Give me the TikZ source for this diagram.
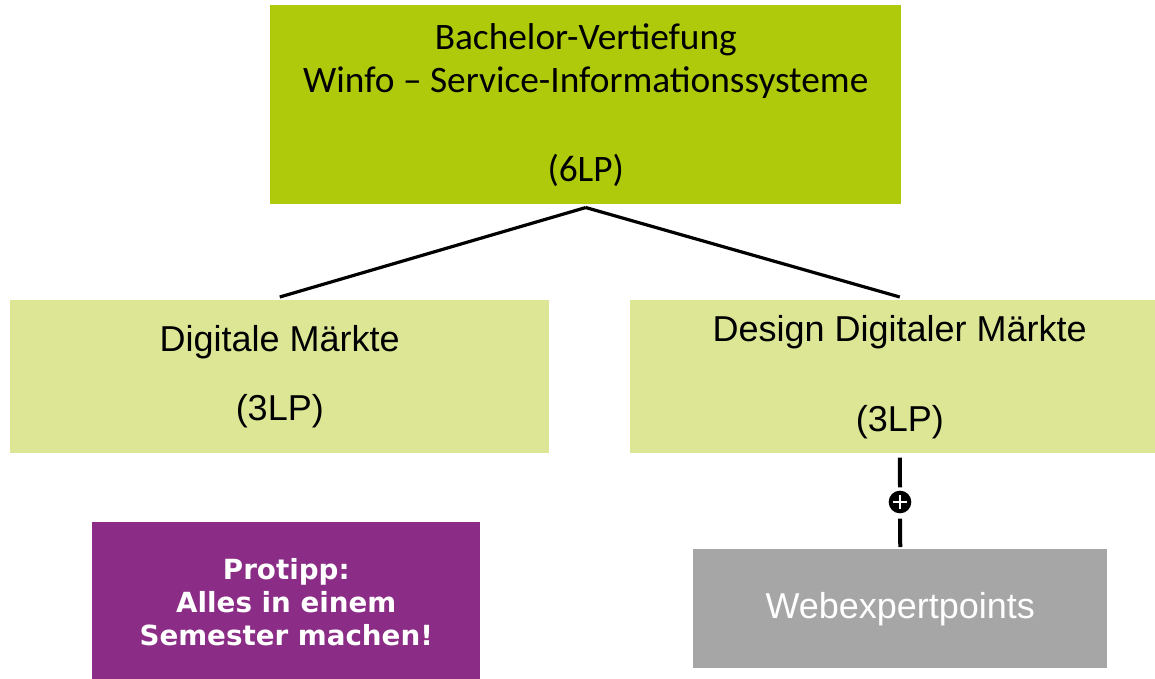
\documentclass[tikz,border=0pt]{standalone}
\usepackage{fontspec}
\setmainfont{Liberation Sans}
\newfontfamily\calib{Carlito}
\newfontfamily\verd{DejaVu Sans}
\definecolor{topgreen}{HTML}{AFCA0B}
\definecolor{lightgreen}{HTML}{DCE695}
\definecolor{protipp}{HTML}{8B2D86}
\definecolor{greybox}{HTML}{A6A6A6}
\begin{document}
\begin{tikzpicture}[x=0.75pt,y=-0.75pt,
  box/.style={draw=none, inner sep=0pt, anchor=north west, align=center},
  conn/.style={line width=2.4pt, black}]
\useasboundingbox (0,0) rectangle (1155,678);
\node[box, fill=topgreen, minimum width=473.25pt, minimum height=149.25pt,
  font=\calib\fontsize{28}{32.25}\selectfont] (top) at (270,5)
  {Bachelor-Vertiefung\\Winfo – Service-Informationssysteme\\[34.5pt](6LP)};
\node[box, fill=lightgreen, minimum width=404.25pt, minimum height=114.75pt,
  font=\fontsize{27}{32}\selectfont] (left) at (10,300)
  {Digitale Märkte\\[19.75pt](3LP)};
\node[box, fill=lightgreen, minimum width=404.25pt, minimum height=114.75pt,
  font=\fontsize{27}{32}\selectfont] (right) at (630,300)
  {Design Digitaler Märkte\\[35.5pt](3LP)};
\node[box, fill=protipp, minimum width=291pt, minimum height=120pt, text=white,
  font=\verd\bfseries\fontsize{20.8}{24.75}\selectfont] (tip) at (92,522)
  {Protipp:\\Alles in einem\\Semester machen!};
\node[box, fill=greybox, minimum width=310.5pt, minimum height=89.25pt, text=white,
  font=\fontsize{27}{32}\selectfont] (grey) at (693,549)
  {Webexpertpoints};
\node[circle, fill=black, minimum size=17pt, inner sep=0pt] (plus) at (900,502) {};
\draw[white, line width=1.8pt] ([xshift=-5pt]plus.center) -- ([xshift=5pt]plus.center);
\draw[white, line width=1.8pt] ([yshift=-5pt]plus.center) -- ([yshift=5pt]plus.center);
\draw[conn] ([yshift=-2.25pt]top.south) -- ([yshift=2.25pt]left.north);
\draw[conn] ([yshift=-2.25pt]top.south) -- ([yshift=2.25pt]right.north);
\draw[conn, line width=3pt] ([yshift=-3pt]right.south) -- ([yshift=2.25pt]plus.north);
\draw[conn, line width=3pt] ([yshift=-3.75pt]plus.south) -- ([yshift=1.5pt]grey.north);
\end{tikzpicture}
\end{document}
